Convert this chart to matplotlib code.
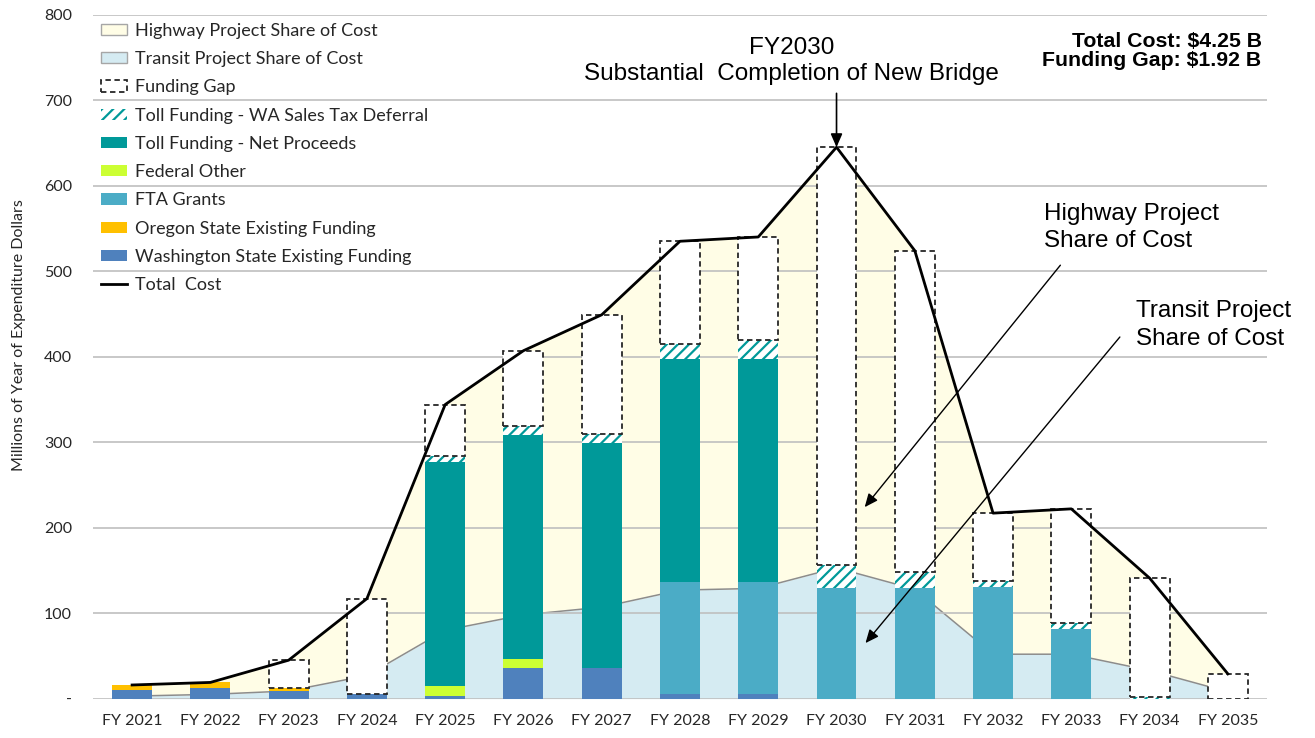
import numpy as np
import matplotlib
matplotlib.use("Agg")
import matplotlib.pyplot as plt
from matplotlib.patches import Patch
from matplotlib.lines import Line2D

# ---------------- data ----------------
years = ["FY 2021", "FY 2022", "FY 2023", "FY 2024", "FY 2025", "FY 2026", "FY 2027",
         "FY 2028", "FY 2029", "FY 2030", "FY 2031", "FY 2032", "FY 2033", "FY 2034", "FY 2035"]
total_cost = [16, 19, 45, 117, 344, 407, 449, 535, 540, 645, 524, 217, 222, 141, 29]
transit_share = [3, 5, 9, 27, 80, 98, 107, 127, 129, 153, 128, 52, 52, 33, 8]
wa_existing = [10, 13, 9, 5, 3, 36, 36, 5, 5, 0, 0, 0, 0, 0, 0]
or_existing = [6, 7, 4, 0, 0, 0, 0, 0, 0, 0, 0, 0, 0, 0, 0]
fta_grants = [0, 0, 0, 0, 0, 0, 0, 131, 131, 130, 130, 131, 81, 0, 0]
federal_other = [0, 0, 0, 0, 12, 10, 0, 0, 0, 0, 0, 0, 0, 0, 0]
toll_net = [0, 0, 0, 0, 262, 262, 263, 261, 261, 0, 0, 0, 0, 0, 0]
toll_deferral = [0, 0, 0, 0, 7, 11, 10, 18, 23, 26, 18, 7, 7, 2, 0]
yticks = [0, 100, 200, 300, 400, 500, 600, 700, 800]
yticklabels = ["-", "100", "200", "300", "400", "500", "600", "700", "800"]

# ---------------- style ----------------
C_HWY = "#FFFDE6"
C_TRANSIT = "#D5EBF2"
C_TEAL = "#009999"
C_FED = "#CCFF33"
C_FTA = "#4BACC6"
C_OR = "#FFC000"
C_WA = "#4F81BD"
TXT = "#262626"
plt.rcParams["hatch.linewidth"] = 1.6
LEG_FONT = "Lato"
ANN_FONT = "Liberation Sans"

fig = plt.figure(figsize=(13.15, 7.38), dpi=100)
ax = fig.add_axes([0.0707, 0.0533, 0.8928, 0.9268])

x = np.arange(len(years))
total = np.array(total_cost, float)
transit = np.array(transit_share, float)
w = 0.51

# areas
ax.fill_between(x, 0, transit, color=C_TRANSIT, lw=0, zorder=1)
ax.fill_between(x, transit, total, color=C_HWY, lw=0, zorder=1)
ax.plot(x, transit, color="#8C8C8C", lw=1.1, zorder=1.3)

# stacked funding bars
bottom = np.zeros(len(x))
for vals, col in [(wa_existing, C_WA), (or_existing, C_OR), (fta_grants, C_FTA),
                  (federal_other, C_FED), (toll_net, C_TEAL)]:
    v = np.array(vals, float)
    ax.bar(x, v, w, bottom=bottom, color=col, lw=0, zorder=2)
    bottom += v
v = np.array(toll_deferral, float)
ax.bar(x, v, w, bottom=bottom, facecolor="white", edgecolor=C_TEAL, hatch="///",
       lw=0, zorder=2)
bottom += v

gap = total - bottom
m = gap > 0.5
ax.bar(x[m], gap[m], w, bottom=bottom[m], facecolor="white", edgecolor=TXT,
       linestyle=(0, (3, 2)), lw=1.3, zorder=2.2)

# total cost line
ax.plot(x, total, color="black", lw=2, zorder=4)

# axes
ax.set_xlim(-0.5, len(x) - 0.5)
ax.set_ylim(0, 800)
ax.set_yticks(yticks)
ax.set_yticklabels(yticklabels)
ax.set_xticks(x)
ax.set_xticklabels(years)
for s in ax.spines.values():
    s.set_visible(False)
ax.set_axisbelow("line")
ax.yaxis.grid(True, color="#BFBFBF", lw=1.2)
ax.tick_params(axis="both", length=0, colors=TXT)
ax.tick_params(axis="y", pad=15)
ax.tick_params(axis="x", pad=11)
for lab in ax.get_xticklabels() + ax.get_yticklabels():
    lab.set_fontfamily(LEG_FONT)
    lab.set_fontsize(11.5)
ax.set_ylabel("Millions of Year of Expenditure Dollars", family=LEG_FONT,
              fontsize=11.5, color=TXT)
ax.yaxis.set_label_coords(-0.057, 0.532)

# legend
handles = [
    Patch(facecolor=C_HWY, edgecolor="#A6A6A6", lw=1, label="Highway Project Share of Cost"),
    Patch(facecolor=C_TRANSIT, edgecolor="#A6A6A6", lw=1, label="Transit Project Share of Cost"),
    Patch(facecolor="white", edgecolor=TXT, linestyle=(0, (3, 2)), lw=1.3, label="Funding Gap"),
    Patch(facecolor="white", edgecolor=C_TEAL, hatch="///", lw=0,
          label="Toll Funding - WA Sales Tax Deferral"),
    Patch(facecolor=C_TEAL, lw=0, label="Toll Funding - Net Proceeds"),
    Patch(facecolor=C_FED, lw=0, label="Federal Other"),
    Patch(facecolor=C_FTA, lw=0, label="FTA Grants"),
    Patch(facecolor=C_OR, lw=0, label="Oregon State Existing Funding"),
    Patch(facecolor=C_WA, lw=0, label="Washington State Existing Funding"),
    Line2D([0], [0], color="black", lw=2, label="Total  Cost"),
]
leg = ax.legend(handles=handles, loc="upper left", bbox_to_anchor=(0.0, 1.0),
                frameon=False, prop={"family": LEG_FONT, "size": 13},
                handlelength=1.45, handleheight=0.58, handletextpad=0.45,
                labelspacing=0.68, borderaxespad=0.25, borderpad=0.2)
for t in leg.get_texts():
    t.set_color(TXT)

# annotations
ax.annotate("", xy=(9, total[9]), xytext=(9, 708),
            arrowprops=dict(arrowstyle="-|>,head_length=0.8,head_width=0.35",
                            color="black", lw=1.2, shrinkA=0, shrinkB=0), zorder=5)
ax.text(8.43, 746, "FY2030\nSubstantial  Completion of New Bridge", ha="center",
        va="center", family=ANN_FONT, fontsize=17.5, color="black", linespacing=1.25)
ax.annotate("", xy=(9.36, 224), xytext=(11.86, 507),
            arrowprops=dict(arrowstyle="-|>,head_length=0.8,head_width=0.35",
                            color="black", lw=1.0, shrinkA=0, shrinkB=0), zorder=5)
ax.text(11.65, 551, "Highway Project\nShare of Cost", ha="left", va="center",
        family=ANN_FONT, fontsize=17.5, color="black", linespacing=1.3)
ax.annotate("", xy=(9.37, 65), xytext=(12.62, 423),
            arrowprops=dict(arrowstyle="-|>,head_length=0.8,head_width=0.35",
                            color="black", lw=1.0, shrinkA=0, shrinkB=0), zorder=5)
ax.text(12.83, 437, "Transit Project\nShare of Cost", ha="left", va="center",
        family=ANN_FONT, fontsize=17.5, color="black", linespacing=1.3)
ax.text(14.43, 757, "Total Cost: $4.25 B\nFunding Gap: $1.92 B", ha="right",
        va="center", family=ANN_FONT, fontsize=15.3, fontweight="bold",
        color="black", linespacing=1.0)

fig.savefig("out.png", dpi=100)
